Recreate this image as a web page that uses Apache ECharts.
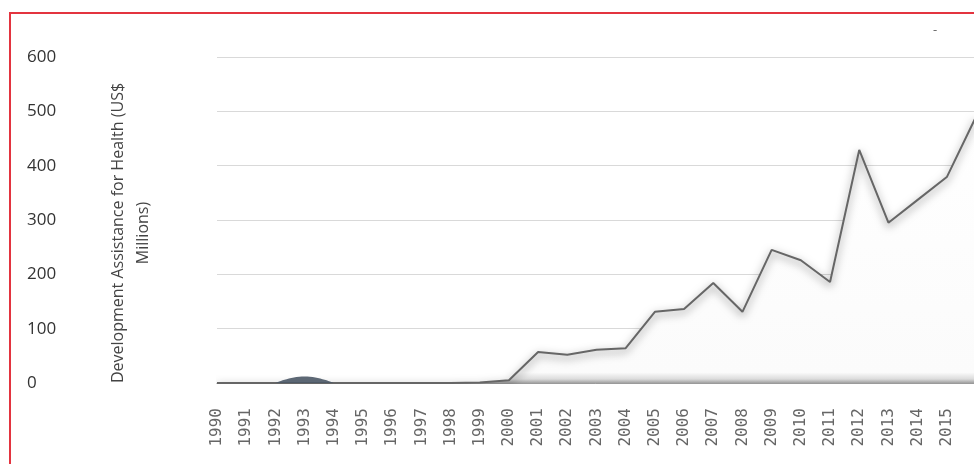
<!DOCTYPE html>
<html>
<head>
<meta charset="utf-8">
<script src="https://cdn.jsdelivr.net/npm/echarts@6/dist/echarts.min.js"></script>
<style>
  html, body { margin: 0; padding: 0; background: #fff; }
  #chart { width: 974px; height: 464px; }
</style>
</head>
<body>
<div id="chart"></div>
<script>
// 年份（最后一个点在原图中超出了标签范围）
const years = ['1990', '1991', '1992', '1993', '1994', '1995', '1996', '1997', '1998', '1999',
  '2000', '2001', '2002', '2003', '2004', '2005', '2006', '2007', '2008', '2009',
  '2010', '2011', '2012', '2013', '2014', '2015', '2016']
const labelCount = 26 // 只显示到 2015

// 主系列
const dahValues = [0, 0, 0, 0, 0, 0, 0, 0, 0, 1,
  5, 57, 52, 61, 64, 131, 136, 184, 131, 245,
  226, 186, 429, 295, 337, 379, 490]

// 1993 附近的小块深色区域
const earlyValues = [null, null, 0, 12, 0, null, null, null, null, null,
  null, null, null, null, null, null, null, null, null, null,
  null, null, null, null, null, null, null]

const yTicks = { min: 0, max: 600, interval: 100 }

const chart = echarts.init(document.getElementById('chart'))

const options = {
  animation: false,
  textStyle: { fontFamily: 'Open Sans' },
  // --------------   外框 -----------------
  graphic: [
    {
      type: 'rect',
      shape: { x: 10, y: 13, width: 980, height: 470 },
      style: { fill: 'transparent', stroke: '#e3343f', lineWidth: 2 },
      z: 100
    },
    {
      type: 'text',
      left: 933,
      top: 24,
      style: { text: '-', fill: '#666', font: '13px Open Sans' }
    }
  ],
  grid: {
    left: 217,
    right: -2,
    top: 57,
    bottom: 81,
    containLabel: false,
    outerBoundsMode: 'none'
  },
  xAxis: {
    type: 'category',
    boundaryGap: false,
    data: years,
    axisLine: { show: true, lineStyle: { color: '#9a9a9a', width: 1 } },
    axisTick: { show: false },
    axisLabel: {
      rotate: 90,
      margin: 25,
      color: '#666',
      fontSize: 16,
      fontFamily: 'DejaVu Sans Mono',
      interval: (idx) => idx < labelCount
    },
    splitLine: { show: false }
  },
  yAxis: {
    type: 'value',
    min: yTicks.min,
    max: yTicks.max,
    interval: yTicks.interval,
    name: 'Development Assistance for Health (US$\nMillions)',
    nameLocation: 'middle',
    nameGap: 61,
    nameRotate: 90,
    nameMoveOverlap: false,
    nameTextStyle: {
      color: '#444',
      fontSize: 16,
      lineHeight: 25,
      align: 'center',
      padding: [0, 26, 0, 0]
    },
    axisLine: { show: false },
    axisTick: { show: false },
    axisLabel: {
      align: 'left',
      margin: 190,
      color: '#333',
      fontSize: 17
    },
    splitLine: {
      show: true,
      lineStyle: { color: '#d9d9d9', width: 1, type: 'solid' }
    }
  },
  series: [
    {
      name: 'DAH',
      type: 'line',
      data: dahValues,
      symbol: 'none',
      z: 3,
      lineStyle: {
        color: '#666666',
        width: 2,
        shadowColor: 'rgba(0,0,0,0.55)',
        shadowBlur: 8,
        shadowOffsetY: 3
      },
      areaStyle: {
        color: {
          type: 'linear',
          x: 0, y: 0, x2: 0, y2: 1,
          colorStops: [
            { offset: 0, color: '#ffffff' },
            { offset: 0.96, color: '#fbfbfb' },
            { offset: 0.985, color: '#dcdcdc' },
            { offset: 1, color: '#a0a0a0' }
          ]
        },
        opacity: 1
      }
    },
    {
      name: 'early',
      type: 'line',
      data: earlyValues,
      symbol: 'none',
      smooth: true,
      z: 4,
      lineStyle: { width: 0 },
      areaStyle: { color: '#4b5866', opacity: 0.9 }
    }
  ]
}

chart.setOption(options, true)
</script>
</body>
</html>
